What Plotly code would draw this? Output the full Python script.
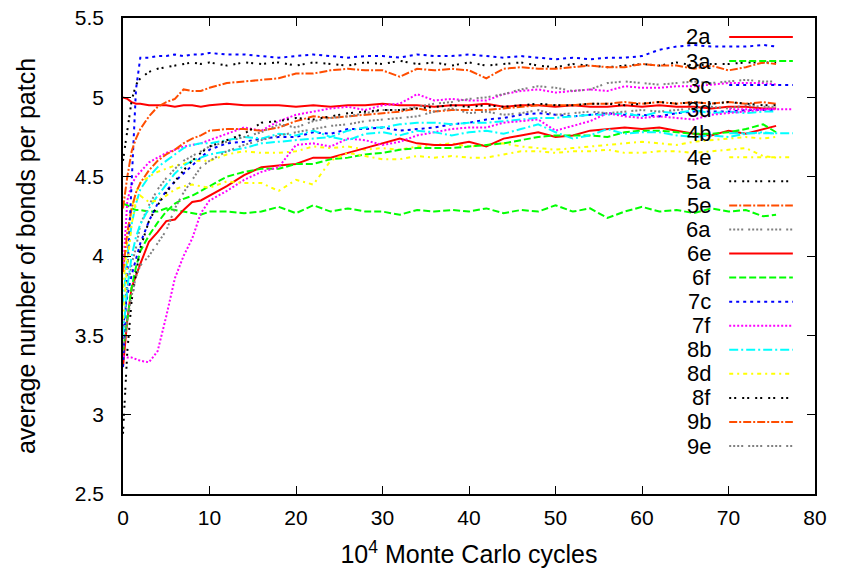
import plotly.graph_objects as go

# --- datos ---
ciclos = [0, 0.5, 1, 1.5, 2, 3, 4, 5, 6, 7, 8, 9, 10, 12, 14, 16, 18, 20, 22, 24, 26, 28,
          30, 32, 34, 36, 38, 40, 42, 44, 46, 48, 50, 52, 54, 56, 58, 60, 62, 64, 66, 68,
          70, 72, 74, 75.5]

s_2a = [5.00, 4.99, 4.97, 4.96, 4.96, 4.95, 4.95, 4.95, 4.94, 4.95, 4.95, 4.94, 4.95, 4.96, 4.95, 4.95,
        4.95, 4.94, 4.95, 4.94, 4.95, 4.95, 4.96, 4.95, 4.95, 4.94, 4.95, 4.95, 4.96, 4.94, 4.95, 4.95,
        4.94, 4.95, 4.94, 4.94, 4.95, 4.94, 4.95, 4.94, 4.94, 4.93, 4.94, 4.94, 4.93, 4.93]
s_3a = [4.33, 4.32, 4.30, 4.29, 4.29, 4.28, 4.28, 4.30, 4.29, 4.28, 4.27, 4.26, 4.28, 4.28, 4.27, 4.28,
        4.31, 4.27, 4.32, 4.28, 4.30, 4.28, 4.28, 4.26, 4.29, 4.28, 4.29, 4.28, 4.30, 4.27, 4.29, 4.28,
        4.32, 4.28, 4.30, 4.24, 4.28, 4.31, 4.28, 4.29, 4.27, 4.30, 4.28, 4.29, 4.25, 4.26]
s_3c = [3.55, 3.75, 3.88, 3.98, 4.08, 4.22, 4.33, 4.41, 4.47, 4.52, 4.57, 4.62, 4.67, 4.71, 4.72, 4.74,
        4.75, 4.75, 4.78, 4.77, 4.80, 4.80, 4.81, 4.79, 4.80, 4.81, 4.83, 4.84, 4.86, 4.87, 4.89, 4.90,
        4.89, 4.88, 4.89, 4.90, 4.89, 4.89, 4.88, 4.90, 4.91, 4.91, 4.91, 4.92, 4.92, 4.92]
s_3d = [3.90, 4.35, 4.45, 4.50, 4.53, 4.59, 4.62, 4.65, 4.67, 4.69, 4.70, 4.71, 4.73, 4.77, 4.81, 4.79,
        4.85, 4.89, 4.91, 4.93, 4.94, 4.92, 4.95, 4.96, 5.02, 4.98, 4.99, 4.98, 4.98, 5.02, 5.04, 5.05,
        5.03, 5.04, 5.05, 5.04, 5.07, 5.06, 5.06, 5.07, 5.07, 5.08, 5.09, 5.09, 5.09, 5.08]
s_4b = [3.70, 4.00, 4.20, 4.33, 4.42, 4.50, 4.56, 4.60, 4.64, 4.68, 4.70, 4.71, 4.71, 4.73, 4.75, 4.74,
        4.77, 4.76, 4.79, 4.75, 4.79, 4.81, 4.81, 4.83, 4.84, 4.84, 4.83, 4.84, 4.84, 4.85, 4.86, 4.87,
        4.87, 4.88, 4.89, 4.89, 4.90, 4.88, 4.91, 4.90, 4.92, 4.90, 4.91, 4.90, 4.91, 4.91]
s_4e = [3.80, 4.10, 4.30, 4.40, 4.46, 4.50, 4.53, 4.55, 4.57, 4.58, 4.60, 4.60, 4.60, 4.64, 4.66, 4.65,
        4.65, 4.66, 4.69, 4.68, 4.69, 4.67, 4.68, 4.67, 4.69, 4.70, 4.71, 4.69, 4.70, 4.71, 4.69, 4.68,
        4.67, 4.68, 4.69, 4.70, 4.71, 4.72, 4.71, 4.70, 4.72, 4.73, 4.74, 4.75, 4.74, 4.75]
s_5a = [4.60, 4.80, 4.98, 5.08, 5.12, 5.16, 5.18, 5.19, 5.20, 5.21, 5.22, 5.21, 5.22, 5.20, 5.22, 5.21,
        5.22, 5.20, 5.22, 5.21, 5.20, 5.22, 5.21, 5.23, 5.21, 5.22, 5.20, 5.22, 5.20, 5.21, 5.22, 5.20,
        5.19, 5.21, 5.20, 5.19, 5.20, 5.21, 5.20, 5.22, 5.20, 5.21, 5.21, 5.22, 5.22, 5.22]
s_5e = [3.90, 4.15, 4.30, 4.40, 4.46, 4.54, 4.60, 4.64, 4.67, 4.71, 4.74, 4.76, 4.79, 4.80, 4.80, 4.79,
        4.81, 4.85, 4.88, 4.87, 4.88, 4.89, 4.90, 4.91, 4.93, 4.91, 4.92, 4.92, 4.92, 4.93, 4.94, 4.95,
        4.95, 4.95, 4.96, 4.96, 4.97, 4.96, 4.97, 4.96, 4.97, 4.96, 4.97, 4.96, 4.97, 4.96]
s_6a = [3.50, 3.80, 3.95, 4.05, 4.20, 4.32, 4.42, 4.49, 4.55, 4.60, 4.63, 4.66, 4.69, 4.72, 4.75, 4.78,
        4.83, 4.81, 4.85, 4.87, 4.88, 4.90, 4.92, 4.92, 4.94, 4.96, 4.97, 4.99, 5.00, 5.02, 5.05, 5.07,
        5.06, 5.04, 5.05, 5.09, 5.10, 5.09, 5.08, 5.09, 5.10, 5.09, 5.10, 5.11, 5.10, 5.10]
s_6e = [3.30, 3.60, 3.80, 3.88, 3.95, 4.09, 4.15, 4.22, 4.23, 4.29, 4.34, 4.35, 4.38, 4.44, 4.51, 4.56,
        4.57, 4.58, 4.62, 4.62, 4.65, 4.68, 4.71, 4.74, 4.71, 4.70, 4.70, 4.72, 4.69, 4.74, 4.76, 4.78,
        4.75, 4.76, 4.79, 4.80, 4.81, 4.80, 4.81, 4.79, 4.77, 4.76, 4.79, 4.77, 4.80, 4.82]
s_6f = [3.40, 3.60, 3.80, 3.93, 4.03, 4.13, 4.21, 4.28, 4.33, 4.36, 4.38, 4.41, 4.44, 4.50, 4.53, 4.55,
        4.55, 4.58, 4.58, 4.61, 4.62, 4.64, 4.65, 4.67, 4.68, 4.68, 4.68, 4.69, 4.70, 4.71, 4.73, 4.75,
        4.76, 4.76, 4.76, 4.75, 4.78, 4.79, 4.79, 4.78, 4.77, 4.77, 4.78, 4.80, 4.83, 4.78]
s_7c = [3.30, 3.90, 4.50, 5.05, 5.25, 5.25, 5.26, 5.26, 5.27, 5.26, 5.27, 5.27, 5.28, 5.27, 5.27, 5.26,
        5.25, 5.26, 5.27, 5.26, 5.25, 5.26, 5.26, 5.25, 5.27, 5.26, 5.26, 5.27, 5.26, 5.25, 5.26, 5.25,
        5.24, 5.25, 5.24, 5.25, 5.25, 5.26, 5.30, 5.32, 5.33, 5.32, 5.32, 5.32, 5.33, 5.32]
s_7f = [3.37, 3.36, 3.36, 3.35, 3.34, 3.33, 3.40, 3.62, 3.86, 4.00, 4.11, 4.27, 4.35, 4.41, 4.48, 4.53,
        4.56, 4.70, 4.71, 4.69, 4.74, 4.73, 4.70, 4.72, 4.76, 4.78, 4.80, 4.81, 4.81, 4.84, 4.85, 4.86,
        4.79, 4.82, 4.85, 4.90, 4.88, 4.87, 4.88, 4.87, 4.86, 4.89, 4.90, 4.91, 4.92, 4.93]
s_8b = [3.50, 3.80, 4.00, 4.12, 4.20, 4.30, 4.38, 4.45, 4.52, 4.57, 4.60, 4.62, 4.64, 4.66, 4.68, 4.71,
        4.72, 4.73, 4.74, 4.75, 4.73, 4.77, 4.78, 4.76, 4.79, 4.78, 4.76, 4.78, 4.79, 4.77, 4.80, 4.83,
        4.78, 4.74, 4.76, 4.80, 4.77, 4.78, 4.78, 4.76, 4.75, 4.76, 4.75, 4.77, 4.78, 4.77]
s_8d = [3.60, 3.95, 4.20, 4.35, 4.38, 4.34, 4.35, 4.38, 4.42, 4.44, 4.45, 4.44, 4.43, 4.47, 4.46, 4.46,
        4.41, 4.48, 4.45, 4.60, 4.65, 4.63, 4.61, 4.61, 4.63, 4.62, 4.63, 4.62, 4.62, 4.64, 4.66, 4.66,
        4.65, 4.66, 4.66, 4.67, 4.65, 4.65, 4.66, 4.66, 4.65, 4.66, 4.67, 4.68, 4.63, 4.62]
s_8f = [2.88, 3.40, 3.72, 3.88, 4.05, 4.22, 4.32, 4.40, 4.47, 4.54, 4.60, 4.65, 4.69, 4.73, 4.77, 4.84,
        4.85, 4.87, 4.86, 4.88, 4.90, 4.91, 4.92, 4.92, 4.93, 4.94, 4.95, 4.94, 4.95, 4.94, 4.95, 4.96,
        4.95, 4.95, 4.96, 4.96, 4.95, 4.96, 4.97, 4.96, 4.97, 4.96, 4.97, 4.96, 4.95, 4.95]
s_9b = [4.30, 4.50, 4.66, 4.74, 4.80, 4.88, 4.94, 4.97, 4.99, 5.05, 5.04, 5.04, 5.06, 5.09, 5.10, 5.11,
        5.12, 5.15, 5.15, 5.17, 5.18, 5.17, 5.17, 5.13, 5.18, 5.17, 5.18, 5.17, 5.12, 5.18, 5.19, 5.18,
        5.18, 5.19, 5.20, 5.19, 5.19, 5.21, 5.20, 5.20, 5.18, 5.20, 5.17, 5.19, 5.22, 5.21]
s_9e = [3.40, 3.60, 3.75, 3.87, 3.94, 4.00, 4.08, 4.16, 4.30, 4.40, 4.48, 4.56, 4.60, 4.66, 4.70, 4.73,
        4.76, 4.78, 4.80, 4.82, 4.83, 4.85, 4.86, 4.87, 4.88, 4.91, 4.93, 4.90, 4.91, 4.89, 4.90, 4.92,
        4.89, 4.90, 4.91, 4.90, 4.91, 4.92, 4.91, 4.92, 4.93, 4.94, 4.93, 4.95, 4.94, 4.94]

nombres = ['2a', '3a', '3c', '3d', '4b', '4e', '5a', '5e', '6a',
           '6e', '6f', '7c', '7f', '8b', '8d', '8f', '9b', '9e']
series = [s_2a, s_3a, s_3c, s_3d, s_4b, s_4e, s_5a, s_5e, s_6a,
          s_6e, s_6f, s_7c, s_7f, s_8b, s_8d, s_8f, s_9b, s_9e]

# estilos tipo gnuplot (se repiten cada 9 curvas)
colores = ['#ff0000', '#00ff00', '#0000ff', '#ff00ff', '#00ffff',
           '#ffff00', '#000000', '#ff4d00', '#808080']
trazos = ['solid', '7px,3px', '3px,4px', '2px,2px', '9px,3px,2px,3px',
          '4px,4px,2px,4px', '2px,3px,2px,6px', '8px,2px,2px,2px',
          '2px,2px,2px,2px,2px,2px,2px,5px']

fuente = 'Liberation Sans, Arial, sans-serif'
tam = 21

fig = go.Figure()
for i, (nombre, valores) in enumerate(zip(nombres, series)):
    fig.add_trace(go.Scatter(x=ciclos, y=valores, mode='lines', name=nombre,
                             line=dict(color=colores[i % 9], dash=trazos[i % 9], width=2),
                             showlegend=False))

# leyenda estilo gnuplot: texto a la derecha y muestra de linea despues
y0_px, paso_px = 19, 24.06   # relativo al borde superior del area de grafico
for i, nombre in enumerate(nombres):
    yp = 1 - (y0_px + i * paso_px) / 476
    fig.add_annotation(x=0.853, y=yp, xref='paper', yref='paper', text=nombre,
                       showarrow=False, xanchor='right', yanchor='middle',
                       font=dict(family=fuente, size=tam + 1, color='black'))
    fig.add_shape(type='line', xref='paper', yref='paper', x0=0.876, x1=0.968, y0=yp, y1=yp,
                  line=dict(color=colores[i % 9], dash=trazos[i % 9], width=2))

ejes = dict(showline=True, linecolor='black', linewidth=1.5, mirror='allticks',
            ticks='inside', ticklen=8, tickcolor='black', showgrid=False, zeroline=False,
            automargin=False, ticklabeloverflow='allow',
            tickfont=dict(family=fuente, size=tam, color='black'))

fig.update_layout(
    width=842, height=575,
    margin=dict(l=115, r=35, t=10, b=89),
    plot_bgcolor='white', paper_bgcolor='white',
    font=dict(family=fuente, size=tam, color='black'),
    xaxis=dict(range=[0, 80], dtick=10, tick0=0, ticklabelstandoff=4,
               title=dict(text='10<sup>4</sup> Monte Carlo cycles', standoff=18), **ejes),
    yaxis=dict(range=[2.5, 5.5], dtick=0.5, tick0=2.5, tickformat='.1~f', ticklabelstandoff=13,
               title=dict(text='average number of bonds per patch', standoff=32), **ejes),
)

fig.write_html('out.html')
